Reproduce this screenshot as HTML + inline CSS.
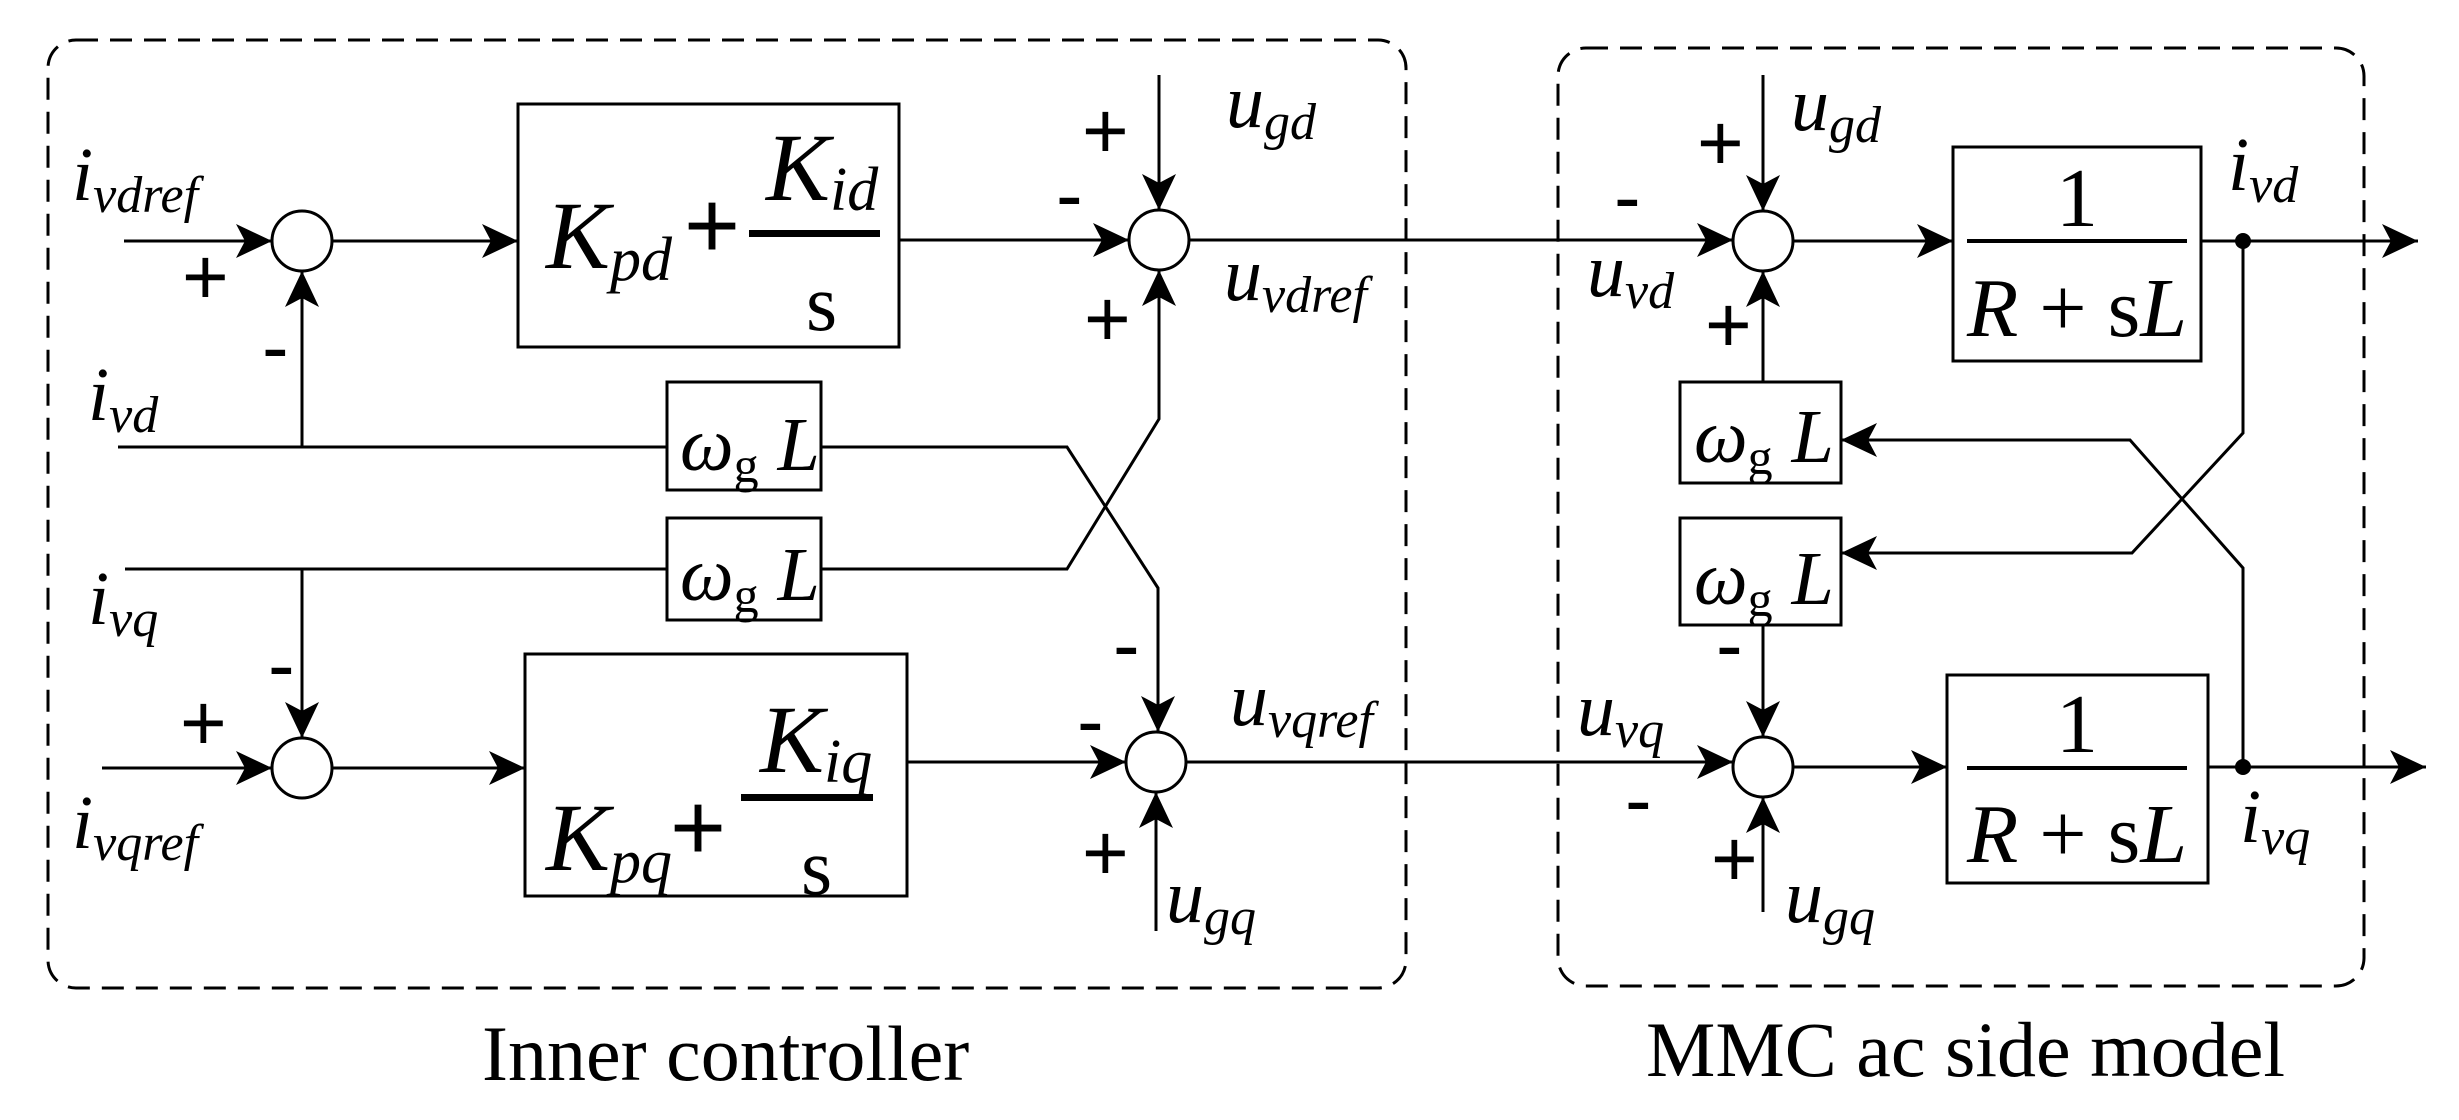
<!DOCTYPE html>
<html><head><meta charset="utf-8"><style>
html,body{margin:0;padding:0;background:#fff;}
svg{display:block}
text{font-family:"Liberation Serif","DejaVu Serif",serif;fill:#000}
.v{font-style:italic;font-size:76px}
.s{font-size:52px}
.p{font-size:80px;font-family:"Liberation Sans",sans-serif}
</style></head><body>
<svg width="2459" height="1120" viewBox="0 0 2459 1120" xmlns="http://www.w3.org/2000/svg">
<defs>
<marker id="a" markerUnits="userSpaceOnUse" markerWidth="38" markerHeight="34" refX="36" refY="17" orient="auto">
<path d="M0,0 L36,17 L0,34 L9,17 Z" fill="#000"/>
</marker>
</defs>
<g fill="none" stroke="#000" stroke-width="3">
<rect x="48" y="40" width="1358" height="948" rx="28" stroke-dasharray="22,12"/>
<rect x="1558" y="48" width="806" height="938" rx="28" stroke-dasharray="22,12"/>
<circle cx="302" cy="241" r="30"/>
<circle cx="1159" cy="240" r="30"/>
<circle cx="302" cy="768" r="30"/>
<circle cx="1156" cy="762" r="30"/>
<circle cx="1763" cy="241" r="30"/>
<circle cx="1763" cy="767" r="30"/>
<rect x="518" y="104" width="381" height="243"/>
<rect x="525" y="654" width="382" height="242"/>
<rect x="667" y="382" width="154" height="108"/>
<rect x="667" y="518" width="154" height="102"/>
<rect x="1953" y="147" width="248" height="214"/>
<rect x="1947" y="675" width="261" height="208"/>
<rect x="1680" y="382" width="161" height="101"/>
<rect x="1680" y="518" width="161" height="107"/>
<line x1="124" y1="241" x2="272" y2="241" marker-end="url(#a)"/>
<line x1="332" y1="241" x2="518" y2="241" marker-end="url(#a)"/>
<line x1="899" y1="240" x2="1129" y2="240" marker-end="url(#a)"/>
<line x1="118" y1="447" x2="667" y2="447"/>
<line x1="302" y1="447" x2="302" y2="271" marker-end="url(#a)"/>
<line x1="125" y1="569" x2="667" y2="569"/>
<line x1="302" y1="569" x2="302" y2="738" marker-end="url(#a)"/>
<line x1="102" y1="768" x2="272" y2="768" marker-end="url(#a)"/>
<line x1="332" y1="768" x2="525" y2="768" marker-end="url(#a)"/>
<line x1="907" y1="762" x2="1126" y2="762" marker-end="url(#a)"/>
<polyline points="821,447 1067,447 1158,588 1158,732" marker-end="url(#a)"/>
<polyline points="821,569 1067,569 1159,419 1159,270" marker-end="url(#a)"/>
<line x1="1159" y1="75" x2="1159" y2="210" marker-end="url(#a)"/>
<line x1="1156" y1="931" x2="1156" y2="792" marker-end="url(#a)"/>
<line x1="1189" y1="240" x2="1733" y2="240" marker-end="url(#a)"/>
<line x1="1186" y1="762" x2="1733" y2="762" marker-end="url(#a)"/>
<line x1="1793" y1="241" x2="1953" y2="241" marker-end="url(#a)"/>
<line x1="1793" y1="767" x2="1947" y2="767" marker-end="url(#a)"/>
<line x1="2201" y1="241" x2="2418" y2="241" marker-end="url(#a)"/>
<line x1="2208" y1="767" x2="2426" y2="767" marker-end="url(#a)"/>
<line x1="1763" y1="75" x2="1763" y2="211" marker-end="url(#a)"/>
<line x1="1763" y1="382" x2="1763" y2="271" marker-end="url(#a)"/>
<line x1="1763" y1="625" x2="1763" y2="737" marker-end="url(#a)"/>
<line x1="1763" y1="912" x2="1763" y2="797" marker-end="url(#a)"/>
<polyline points="2243,241 2243,433 2132,553 1841,553" marker-end="url(#a)"/>
<polyline points="2243,767 2243,568 2130,440 1841,440" marker-end="url(#a)"/>
</g>
<circle cx="2243" cy="241" r="8" fill="#000"/>
<circle cx="2243" cy="767" r="8" fill="#000"/>
<rect x="749" y="230" width="131" height="7" fill="#000"/>
<rect x="741" y="794" width="132" height="7" fill="#000"/>
<rect x="1967" y="239" width="220" height="4" fill="#000"/>
<rect x="1967" y="766" width="220" height="4" fill="#000"/>
<text x="546" y="268" class="v" style="font-size:96px">K<tspan style="font-size:62px" dy="12">pd</tspan></text>
<text x="684" y="258" style="font-size:96px;font-family:'Liberation Sans',sans-serif">+</text>
<text x="766" y="200" class="v" style="font-size:96px">K<tspan style="font-size:62px" dy="10">id</tspan></text>
<text x="806" y="330" style="font-size:80px">s</text>
<text x="546" y="870" class="v" style="font-size:96px">K<tspan style="font-size:62px" dy="12">pq</tspan></text>
<text x="670" y="860" style="font-size:96px;font-family:'Liberation Sans',sans-serif">+</text>
<text x="760" y="772" class="v" style="font-size:96px">K<tspan style="font-size:62px" dy="10">iq</tspan></text>
<text x="801" y="894" style="font-size:80px">s</text>
<text x="680" y="470" class="v" style="font-size:76px">ω<tspan style="font-size:50px;font-style:normal" dy="12">g</tspan><tspan dy="-12"> L</tspan></text>
<text x="680" y="600" class="v" style="font-size:76px">ω<tspan style="font-size:50px;font-style:normal" dy="12">g</tspan><tspan dy="-12"> L</tspan></text>
<text x="1694" y="462" class="v" style="font-size:76px">ω<tspan style="font-size:50px;font-style:normal" dy="12">g</tspan><tspan dy="-12"> L</tspan></text>
<text x="1694" y="604" class="v" style="font-size:76px">ω<tspan style="font-size:50px;font-style:normal" dy="12">g</tspan><tspan dy="-12"> L</tspan></text>
<text x="2077" y="226" text-anchor="middle" style="font-size:84px">1</text>
<text x="2077" y="336" text-anchor="middle" style="font-size:84px"><tspan font-style="italic">R</tspan> + s<tspan font-style="italic">L</tspan></text>
<text x="2077" y="752" text-anchor="middle" style="font-size:84px">1</text>
<text x="2077" y="862" text-anchor="middle" style="font-size:84px"><tspan font-style="italic">R</tspan> + s<tspan font-style="italic">L</tspan></text>
<text x="72" y="200" class="v">i<tspan class="s" dy="12">vdref</tspan></text>
<text x="88" y="420" class="v">i<tspan class="s" dy="12">vd</tspan></text>
<text x="88" y="624" class="v">i<tspan class="s" dy="12">vq</tspan></text>
<text x="72" y="848" class="v">i<tspan class="s" dy="12">vqref</tspan></text>
<text x="1226" y="127" class="v">u<tspan class="s" dy="12">gd</tspan></text>
<text x="1224" y="300" class="v">u<tspan class="s" dy="12">vdref</tspan></text>
<text x="1230" y="725" class="v">u<tspan class="s" dy="12">vqref</tspan></text>
<text x="1166" y="922" class="v">u<tspan class="s" dy="12">gq</tspan></text>
<text x="1791" y="130" class="v">u<tspan class="s" dy="12">gd</tspan></text>
<text x="1587" y="296" class="v">u<tspan class="s" dy="12">vd</tspan></text>
<text x="1577" y="735" class="v">u<tspan class="s" dy="12">vq</tspan></text>
<text x="1785" y="922" class="v">u<tspan class="s" dy="12">gq</tspan></text>
<text x="2228" y="190" class="v">i<tspan class="s" dy="12">vd</tspan></text>
<text x="2240" y="842" class="v">i<tspan class="s" dy="12">vq</tspan></text>
<text x="182" y="304" class="p">+</text>
<text x="262" y="374" class="p">-</text>
<text x="268" y="692" class="p">-</text>
<text x="180" y="750" class="p">+</text>
<text x="1082" y="158" class="p">+</text>
<text x="1056" y="222" class="p">-</text>
<text x="1084" y="346" class="p">+</text>
<text x="1113" y="672" class="p">-</text>
<text x="1077" y="748" class="p">-</text>
<text x="1082" y="880" class="p">+</text>
<text x="1697" y="170" class="p">+</text>
<text x="1614" y="224" class="p">-</text>
<text x="1705" y="352" class="p">+</text>
<text x="1716" y="672" class="p">-</text>
<text x="1625" y="827" class="p">-</text>
<text x="1711" y="886" class="p">+</text>
<text x="482" y="1080" style="font-size:78px">Inner controller</text>
<text x="1646" y="1076" style="font-size:78px">MMC ac side model</text>
</svg>
</body></html>
